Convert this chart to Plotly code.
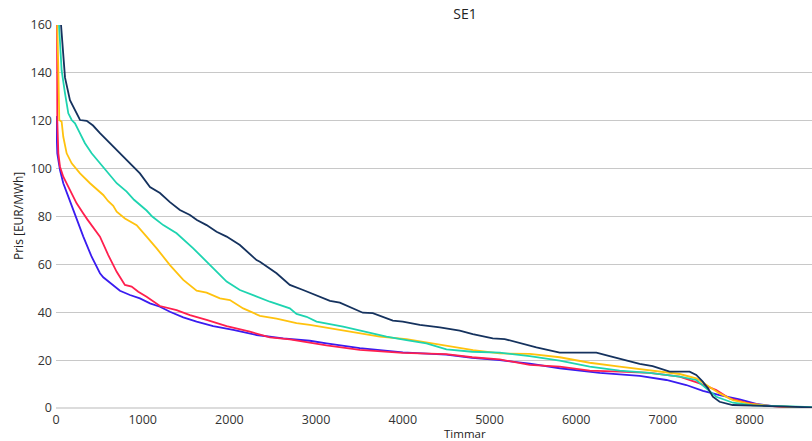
import plotly.graph_objects as go

# Price duration curves, SE1 (hours sorted by price, EUR/MWh)
navy_x = [0, 40, 58, 104, 161, 277, 354, 427, 507, 622, 738, 853, 968, 1084, 1199, 1314,
          1429, 1545, 1625, 1737, 1852, 1968, 2121, 2313, 2352, 2544, 2697, 2850, 3005, 3160,
          3274, 3389, 3539, 3654, 3885, 4000, 4196, 4427, 4657, 4807, 5038, 5176, 5349, 5541,
          5810, 6233, 6386, 6578, 6732, 6882, 7078, 7308, 7385, 7460, 7520, 7576, 7654, 7804,
          8192, 8461, 8760]
navy_y = [300, 180, 160, 138, 128.6, 120.3, 120, 118, 114.8, 110.7, 106.5, 102.3, 98, 92.3,
          89.8, 86, 82.7, 80.6, 78.5, 76.4, 73.6, 71.6, 68.1, 61.8, 61.1, 56.3, 51.4, 49.3,
          47.2, 44.8, 44, 42.2, 39.8, 39.6, 36.5, 36.1, 34.7, 33.7, 32.3, 30.9, 29.1, 28.8,
          27, 25.3, 23.1, 23.1, 21.7, 20, 18.4, 17.5, 15.2, 15.2, 13.8, 11, 8.2, 4.7, 2.6,
          1.25, 0.8, 0.5, 0.2]

teal_x = [0, 20, 35, 65, 104, 142, 181, 219, 277, 334, 411, 507, 603, 700, 815, 900, 1045,
          1110, 1237, 1391, 1583, 1775, 1968, 2121, 2313, 2467, 2697, 2774, 2890, 3005, 3312,
          3581, 3812, 4042, 4273, 4504, 4800, 5118, 5464, 5810, 6156, 6501, 6847, 7193, 7385,
          7501, 7616, 7808, 8035, 8381, 8576, 8760]
teal_y = [300, 190, 160, 141, 131.4, 123.1, 120.3, 118.9, 114.7, 110.6, 106.4, 102.2, 98,
          93.9, 90.4, 87, 82.5, 80, 76.4, 73, 66.7, 59.7, 52.8, 49.3, 46.5, 44.4, 41.6, 39.3,
          38.1, 36.1, 34, 31.9, 29.8, 28.4, 27, 24.5, 23.5, 23.1, 21.7, 19.8, 17.3, 15.6, 14.7,
          13.1, 11.7, 8.2, 4.7, 2.2, 1.1, 0.8, 0.5, 0.3]

yellow_x = [0, 15, 27, 38, 65, 84, 123, 181, 277, 392, 545, 600, 660, 700, 795, 930, 1045,
            1161, 1314, 1468, 1622, 1737, 1891, 2006, 2159, 2352, 2544, 2774, 2928, 3120,
            3427, 3735, 4042, 4350, 4657, 4811, 5118, 5464, 5810, 6156, 6501, 6847, 7193,
            7385, 7501, 7654, 7808, 8000, 8269, 8576, 8760]
yellow_y = [250, 160, 141, 120.3, 119.6, 113.3, 106.4, 102.2, 98, 93.9, 89, 86.5, 84.5, 82,
            79.2, 76.4, 71.6, 66.7, 59.7, 53.5, 49, 48.2, 45.8, 45.1, 41.6, 38.5, 37.3, 35.5,
            34.7, 33.5, 31.9, 29.8, 28.8, 27, 25.3, 24.2, 22.8, 22.6, 21.2, 18.9, 17.3, 15.6,
            14.2, 12.4, 9.6, 6.1, 3.3, 1.7, 0.8, 0.4, 0.1]

red_x = [0, 5, 15, 27, 46, 84, 161, 238, 315, 361, 507, 603, 700, 795, 872, 949, 1045, 1122,
         1199, 1391, 1545, 1737, 1968, 2236, 2467, 2697, 2928, 3120, 3504, 4000, 4500, 4800,
         5118, 5464, 5810, 6156, 6501, 6847, 7193, 7424, 7616, 7770, 7962, 8154, 8381, 8692,
         8760]
red_y = [300, 160, 120, 106.4, 100.8, 96.6, 91, 85.5, 81.3, 78.8, 71.6, 63.9, 56.9, 51.4,
         50.7, 48.6, 46.5, 44.4, 42.6, 40.9, 38.8, 36.8, 34.2, 31.9, 29.5, 28.7, 27.3, 26.2,
         24.3, 23, 22.5, 21.2, 20.3, 18, 17.3, 15.6, 15.2, 14.7, 13.1, 10.3, 7.5, 4, 2.2, 1.1,
         0.5, 0.2, 0]

blue_x = [0, 15, 46, 84, 142, 200, 238, 315, 411, 507, 545, 642, 738, 853, 968, 1084, 1199,
          1314, 1468, 1622, 1813, 2044, 2313, 2620, 2928, 3120, 3504, 4000, 4500, 4800, 5118,
          5464, 5810, 6271, 6732, 7040, 7270, 7462, 7654, 7885, 8077, 8269, 8500, 8760]
blue_y = [122, 106.4, 99.4, 93.9, 88.3, 82.7, 78.8, 71.6, 63.2, 56.3, 54.6, 51.8, 49, 47.2,
          45.8, 43.7, 42.3, 40.2, 37.9, 36.1, 34.2, 32.6, 30.5, 29.1, 28.1, 27, 25, 23.2,
          22.3, 21, 20, 18.5, 16.6, 14.7, 13.4, 11.7, 9.6, 7.2, 5.4, 3.6, 1.7, 0.8, 0.3, 0]

series = [
    (blue_x, blue_y, "#3a1cf0"),
    (red_x, red_y, "#ff1f4e"),
    (yellow_x, yellow_y, "#ffc20e"),
    (teal_x, teal_y, "#1ed4b0"),
    (navy_x, navy_y, "#15325e"),
]

fig = go.Figure()
for xs, ys, col in series:
    fig.add_trace(go.Scatter(x=xs, y=ys, mode="lines",
                             line=dict(color=col, width=1.8), showlegend=False,
                             hoverinfo="skip"))

fig.update_layout(
    width=812, height=441,
    margin=dict(l=56, r=0, t=25, b=33),
    paper_bgcolor="white", plot_bgcolor="white",
    font=dict(family="Open Sans", size=12, color="#333"),
    title=dict(text="SE1", x=465 / 812, xref="container", xanchor="center",
               y=1 - 14 / 441, yanchor="middle", font=dict(size=14, color="#222")),
    showlegend=False,
)
fig.update_xaxes(range=[0, 8720], tickmode="array", tickvals=list(range(0, 9000, 1000)),
                 showgrid=False, zeroline=False, showline=False, ticks="",
                 ticklabelstandoff=2,
                 tickfont=dict(size=12.5, color="#333"))
fig.update_yaxes(range=[0, 160], tickmode="array", tickvals=list(range(0, 161, 20)),
                 showgrid=True, gridcolor="#c8c8c8", gridwidth=1,
                 zeroline=True, zerolinecolor="#dcdcdc", zerolinewidth=2,
                 showline=False, ticks="", ticklabelstandoff=3,
                 tickfont=dict(size=12.5, color="#333"))
# Axis titles
fig.add_annotation(text="Timmar", xref="paper", yref="paper",
                   x=(465 - 56) / 756, y=-(433.5 - 408) / 383, xanchor="center",
                   yanchor="middle", showarrow=False, font=dict(size=11.5, color="#222"))
fig.add_annotation(text="Pris [EUR/MWh]", xref="paper", yref="paper",
                   x=(18 - 56) / 756, y=(408 - 216) / 383, xanchor="center",
                   yanchor="middle", textangle=-90, showarrow=False,
                   font=dict(size=12, color="#222"))

fig.write_html("out.html")
